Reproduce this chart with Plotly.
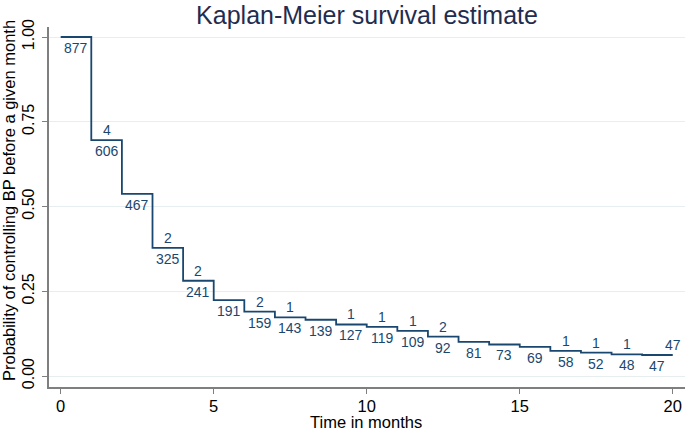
import plotly.graph_objects as go

# ---- data ----
months = list(range(0, 21))  # interval starts 0..19, plus end at 20
surv = [1.000, 0.696, 0.537, 0.378, 0.281, 0.224, 0.190, 0.173, 0.166, 0.152,
        0.145, 0.133, 0.116, 0.101, 0.093, 0.086, 0.074, 0.069, 0.064, 0.062]
at_risk = [877, 606, 467, 325, 241, 191, 159, 143, 139, 127,
           119, 109, 92, 81, 73, 69, 58, 52, 48, 47]
lost = [None, 4, None, 2, 2, None, 2, 1, None, 1,
        1, 1, 2, None, None, None, 1, 1, 1, None]
lost_end = 47

x_ticks = [0, 5, 10, 15, 20]
y_ticks = [0, 0.25, 0.5, 0.75, 1.0]
y_tick_text = ["0.00", "0.25", "0.50", "0.75", "1.00"]

NAVY = "#1a476f"
FONT = "Liberation Sans, Arial, sans-serif"

fig = go.Figure()
fig.add_trace(go.Scatter(
    x=months, y=surv + [surv[-1]], mode="lines", line_shape="hv",
    line=dict(color=NAVY, width=1.8), hoverinfo="skip", showlegend=False))

ann = []
for i, n in enumerate(at_risk):
    ann.append(dict(x=months[i] + 0.5, y=surv[i], text=str(n), showarrow=False,
                    yshift=-11, yanchor="middle", xanchor="center",
                    font=dict(size=14, color=NAVY, family=FONT)))
for i, n in enumerate(lost):
    if n is not None:
        ann.append(dict(x=months[i] + 0.5, y=surv[i], text=str(n), showarrow=False,
                        yshift=10, yanchor="middle", xanchor="center",
                        font=dict(size=14, color=NAVY, family=FONT)))
ann.append(dict(x=months[-1], y=surv[-1], text=str(lost_end), showarrow=False,
                yshift=10, yanchor="middle", xanchor="center",
                font=dict(size=14, color=NAVY, family=FONT)))

# axis titles as annotations for exact placement
ann.append(dict(text="Time in months", xref="paper", yref="paper",
                x=(366 - 49) / 636, y=(387 - 422) / 360, showarrow=False,
                xanchor="center", yanchor="middle",
                font=dict(size=16.5, color="black", family=FONT)))
ann.append(dict(text="Probability of controlling BP before a given month",
                xref="paper", yref="paper", textangle=-90,
                x=(9 - 49) / 636, y=(387 - 201) / 360, showarrow=False,
                xanchor="center", yanchor="middle",
                font=dict(size=16.5, color="black", family=FONT)))

fig.update_layout(
    width=685, height=432,
    margin=dict(l=49, r=0, t=27, b=45, autoexpand=False),
    paper_bgcolor="white", plot_bgcolor="white",
    font=dict(family=FONT, color="black"),
    title=dict(text="Kaplan-Meier survival estimate", x=0.5, xref="paper",
               xanchor="center", y=1 - 15 / 432, yref="container", yanchor="middle",
               font=dict(size=25, color="#1f2d50", family=FONT)),
    annotations=ann,
    xaxis=dict(range=[-0.382, 20.40], tickvals=x_ticks, ticks="outside", ticklen=5,
               tickcolor="#7f7f7f", tickwidth=1.2, showline=True, linecolor="#7f7f7f",
               linewidth=1.5, showgrid=False, zeroline=False, automargin=False,
               ticklabelstandoff=-2,
               tickfont=dict(size=16.5, color="black")),
    yaxis=dict(range=[-0.0324, 1.0295], tickvals=y_ticks, ticktext=y_tick_text,
               tickangle=-90, ticks="outside", ticklen=5, tickcolor="#7f7f7f",
               tickwidth=1.2, showline=True, linecolor="#7f7f7f", linewidth=1.5,
               showgrid=True, gridcolor="#e6eef0", gridwidth=1, zeroline=False,
               automargin=False, ticklabelstandoff=2,
               tickfont=dict(size=16, color="black")),
)

fig.write_html("out.html", config={"displayModeBar": False},
               post_script="document.body.style.margin='0px';"
                           "document.body.style.overflow='hidden';")
